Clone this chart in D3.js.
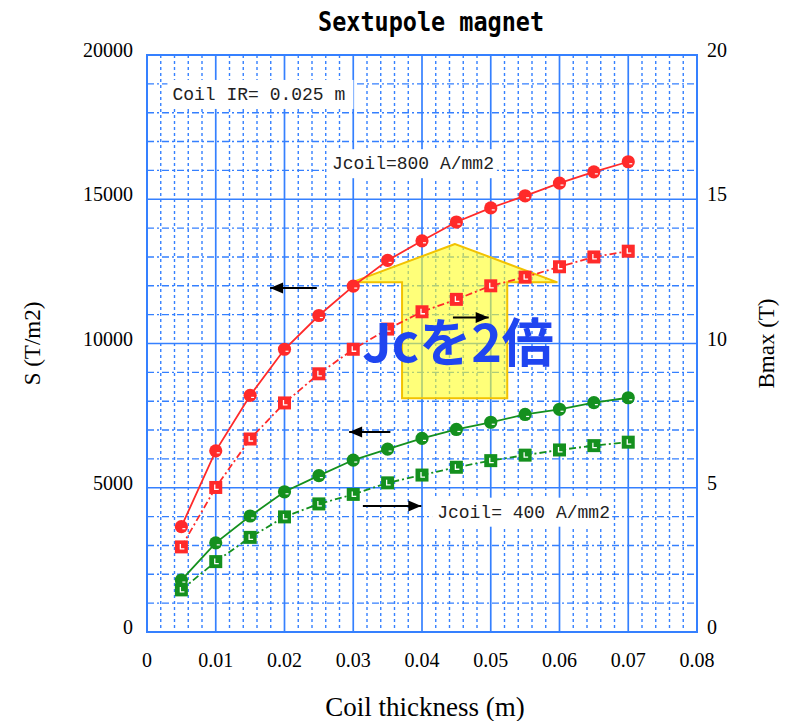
<!DOCTYPE html>
<html>
<head>
<meta charset="utf-8">
<script src="https://cdn.jsdelivr.net/npm/d3@7"></script>
<style>
  body { margin: 0; background: #fff; }
  svg { display: block; }
</style>
</head>
<body>
<div id="chart"></div>
<script>
// coil thickness (m)
var thickness = [0.005, 0.01, 0.015, 0.02, 0.025, 0.03, 0.035, 0.04, 0.045, 0.05, 0.055, 0.06, 0.065, 0.07];
// Jcoil = 800 A/mm2
var sHigh = [3650, 6280, 8200, 9800, 10970, 11990, 12880, 13560, 14210, 14700, 15120, 15560, 15950, 16300];
var bHigh = [2.95, 5.01, 6.69, 7.94, 8.95, 9.80, 10.50, 11.10, 11.53, 12.0, 12.3, 12.66, 13.0, 13.2];
// Jcoil = 400 A/mm2
var sLow = [1800, 3090, 4020, 4860, 5420, 5960, 6340, 6710, 7020, 7270, 7540, 7720, 7950, 8120];
var bLow = [1.46, 2.44, 3.28, 3.99, 4.44, 4.77, 5.17, 5.44, 5.71, 5.94, 6.13, 6.31, 6.46, 6.58];

var xTicks = [0, 0.01, 0.02, 0.03, 0.04, 0.05, 0.06, 0.07, 0.08];
var sTicks = [0, 5000, 10000, 15000, 20000];
var bTicks = [0, 5, 10, 15, 20];

var width = 790, height = 721;
var margin = {top: 55, right: 93, bottom: 89, left: 147};

var svg = d3.select("#chart").append("svg")
	.attr("width", width)
	.attr("height", height);

var x = d3.scaleLinear().domain([0, 0.08]).range([margin.left, width - margin.right]);
var yS = d3.scaleLinear().domain([0, 20000]).range([height - margin.bottom, margin.top]);
var yB = d3.scaleLinear().domain([0, 20]).range([height - margin.bottom, margin.top]);

var gridColor = "#3580ff";
var red = "#ff2a2a", green = "#14901e";

// Grid
var grid = svg.append("g");
grid.selectAll(".vminor")
	.data(d3.range(1, 40).filter(function(i){ return i % 5 != 0; }))
	.enter().append("line")
	.attr("x1", function(d){ return x(d * 0.002); })
	.attr("x2", function(d){ return x(d * 0.002); })
	.attr("y1", yS(20000)).attr("y2", yS(0))
	.style("stroke", gridColor).style("stroke-width", 1.4)
	.style("stroke-dasharray", "3,3");
grid.selectAll(".hminor")
	.data(d3.range(1, 20).filter(function(i){ return i % 5 != 0; }))
	.enter().append("line")
	.attr("y1", function(d){ return yS(d * 1000); })
	.attr("y2", function(d){ return yS(d * 1000); })
	.attr("x1", x(0)).attr("x2", x(0.08))
	.style("stroke", gridColor).style("stroke-width", 1.4)
	.style("stroke-dasharray", "7,3,2,3");
grid.selectAll(".vmajor")
	.data(xTicks)
	.enter().append("line")
	.attr("x1", function(d){ return x(d); })
	.attr("x2", function(d){ return x(d); })
	.attr("y1", yS(20000)).attr("y2", yS(0))
	.style("stroke", gridColor).style("stroke-width", 1.7);
grid.selectAll(".hmajor")
	.data(sTicks)
	.enter().append("line")
	.attr("y1", function(d){ return yS(d); })
	.attr("y2", function(d){ return yS(d); })
	.attr("x1", x(0)).attr("x2", x(0.08))
	.style("stroke", gridColor).style("stroke-width", 1.7);
grid.append("rect")
	.attr("x", x(0)).attr("y", yS(20000))
	.attr("width", x(0.08) - x(0)).attr("height", yS(0) - yS(20000))
	.style("fill", "none").style("stroke", gridColor).style("stroke-width", 2);

// Tick labels
var tickFont = "'Liberation Serif', serif";
svg.append("g").selectAll("text")
	.data(xTicks).enter().append("text")
	.attr("x", function(d){ return x(d); })
	.attr("y", 667)
	.attr("text-anchor", "middle")
	.style("font-family", tickFont).style("font-size", "20px")
	.text(function(d){ return d === 0 ? "0" : d3.format(".2f")(d); });
svg.append("g").selectAll("text")
	.data(sTicks).enter().append("text")
	.attr("x", 133)
	.attr("y", function(d){ return yS(d); })
	.attr("dy", "0.1em")
	.attr("text-anchor", "end")
	.style("font-family", tickFont).style("font-size", "20px")
	.text(function(d){ return d; });
svg.append("g").selectAll("text")
	.data(bTicks).enter().append("text")
	.attr("x", 707)
	.attr("y", function(d){ return yB(d); })
	.attr("dy", "0.1em")
	.attr("text-anchor", "start")
	.style("font-family", tickFont).style("font-size", "20px")
	.text(function(d){ return d; });

// Axis titles
svg.append("text")
	.attr("x", 425).attr("y", 716)
	.attr("text-anchor", "middle")
	.style("font-family", tickFont).style("font-size", "27px")
	.text("Coil thickness (m)");
svg.append("text")
	.attr("transform", "translate(40," + yS(10000) + ") rotate(-90)")
	.attr("text-anchor", "middle")
	.style("font-family", tickFont).style("font-size", "23px")
	.text("S (T/m2)");
svg.append("text")
	.attr("transform", "translate(774," + yS(10000) + ") rotate(-90)")
	.attr("text-anchor", "middle")
	.style("font-family", tickFont).style("font-size", "23px")
	.text("Bmax (T)");

// Title
svg.append("text")
	.attr("x", 431).attr("y", 31)
	.attr("text-anchor", "middle")
	.attr("textLength", 226).attr("lengthAdjust", "spacingAndGlyphs")
	.style("font-family", "'DejaVu Sans Mono', monospace")
	.style("font-weight", "bold").style("font-size", "26px")
	.text("Sextupole magnet");

// Text boxes inside the plot
var labelFont = "'Liberation Mono', monospace";
var labels = [
	{text: "Coil IR= 0.025 m", x: 0.0037, y: 18650, w: 186},
	{text: "Jcoil=800 A/mm2", x: 0.0269, y: 16250, w: 170},
	{text: "Jcoil= 400 A/mm2", x: 0.0422, y: 4170, w: 180}
];
var lab = svg.append("g").selectAll("g").data(labels).enter().append("g");
lab.append("rect")
	.attr("x", function(d){ return x(d.x) - 5; })
	.attr("y", function(d){ return yS(d.y) - 14; })
	.attr("width", function(d){ return d.w; })
	.attr("height", 29)
	.style("fill", "#fff");
lab.append("text")
	.attr("x", function(d){ return x(d.x); })
	.attr("y", function(d){ return yS(d.y); })
	.attr("dy", "0.35em")
	.style("font-family", labelFont).style("font-size", "18px")
	.style("fill", "#222")
	.text(function(d){ return d.text; });

// Big yellow arrow (drawn before data so markers show through)
svg.append("path")
	.attr("d", d3.line().x(function(d){ return x(d[0]); }).y(function(d){ return yS(d[1]); })(
		[[0.0448, 13450], [0.0298, 12120], [0.0371, 12120], [0.0371, 8100],
		 [0.0524, 8100], [0.0524, 12120], [0.0597, 12120]]) + "Z")
	.style("fill", "#ffff20").style("fill-opacity", 0.6)
	.style("stroke", "#f2c200").style("stroke-width", 2);

// Series
var series = [
	{vals: sHigh, y: yS, color: red, shape: "circle", dash: null},
	{vals: bHigh, y: yB, color: red, shape: "square", dash: "7,3,2,3"},
	{vals: sLow, y: yS, color: green, shape: "circle", dash: null},
	{vals: bLow, y: yB, color: green, shape: "square", dash: "7,3,2,3"}
];
series.forEach(function(s){
	var pts = thickness.map(function(t, i){ return [x(t), s.y(s.vals[i])]; });
	svg.append("path")
		.attr("d", d3.line()(pts))
		.style("fill", "none")
		.style("stroke", s.color)
		.style("stroke-width", 1.8)
		.style("stroke-dasharray", s.dash);
	var g = svg.append("g");
	if (s.shape == "circle") {
		g.selectAll("circle").data(pts).enter().append("circle")
			.attr("cx", function(d){ return d[0]; })
			.attr("cy", function(d){ return d[1]; })
			.attr("r", 6.6)
			.style("fill", s.color);
		g.selectAll("line").data(pts).enter().append("line")
			.attr("x1", function(d){ return d[0] + 1; })
			.attr("x2", function(d){ return d[0] + 4; })
			.attr("y1", function(d){ return d[1] + 2; })
			.attr("y2", function(d){ return d[1] + 2; })
			.style("stroke", "#fff").style("stroke-width", 1.2);
	} else {
		g.selectAll("rect.o").data(pts).enter().append("rect")
			.attr("x", function(d){ return d[0] - 6.5; })
			.attr("y", function(d){ return d[1] - 6.5; })
			.attr("width", 13).attr("height", 13)
			.style("fill", s.color);
		g.selectAll("path").data(pts).enter().append("path")
			.attr("d", function(d){
				return "M" + (d[0] - 1) + "," + (d[1] - 3) + "V" + (d[1] + 2) + "H" + (d[0] + 3);
			})
			.style("fill", "none").style("stroke", "#fff").style("stroke-width", 1.3);
	}
});

// Small black arrows: which axis each curve uses
var pointers = [
	{x1: 0.0247, x2: 0.0179, y: yS(11920)},
	{x1: 0.0445, x2: 0.0497, y: yB(10.9)},
	{x1: 0.0354, x2: 0.0294, y: yS(6930)},
	{x1: 0.0314, x2: 0.0399, y: yB(4.37)}
];
var pg = svg.append("g").selectAll("g").data(pointers).enter().append("g");
pg.append("line")
	.attr("x1", function(d){ return x(d.x1); })
	.attr("x2", function(d){ return x(d.x2); })
	.attr("y1", function(d){ return d.y; })
	.attr("y2", function(d){ return d.y; })
	.style("stroke", "#000").style("stroke-width", 2);
pg.append("path")
	.attr("d", function(d){
		var tx = x(d.x2), dir = d.x2 > d.x1 ? -1 : 1;
		return "M" + tx + "," + d.y + "L" + (tx + dir * 13) + "," + (d.y - 5.5) +
			"L" + (tx + dir * 13) + "," + (d.y + 5.5) + "Z";
	})
	.style("fill", "#000");

// Annotation text
svg.append("text")
	.attr("x", x(0.0313)).attr("y", yS(10000))
	.attr("dy", "0.35em")
	.style("font-family", "'Noto Sans CJK JP', sans-serif")
	.style("font-weight", "bold").style("font-size", "52px")
	.style("fill", "#1f45f0")
	.text("Jcを2倍");
</script>
</body>
</html>
